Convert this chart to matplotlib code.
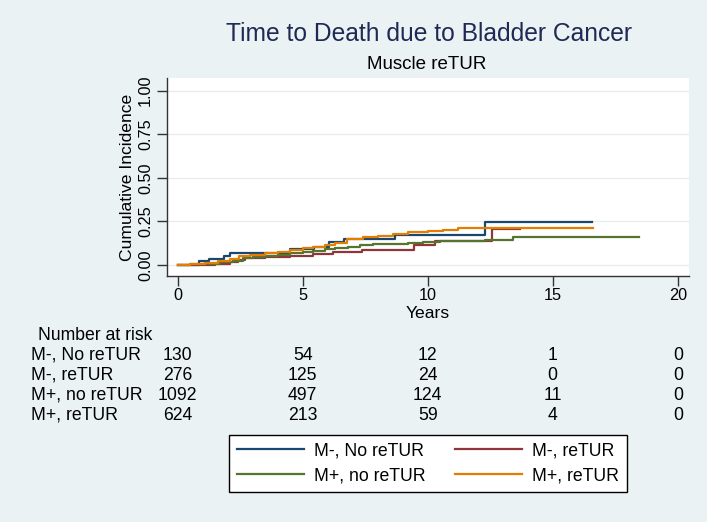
import matplotlib
matplotlib.use("Agg")
import matplotlib.pyplot as plt
import matplotlib.transforms as mtransforms
from matplotlib.patches import Rectangle

plt.rcParams['font.family'] = ['Liberation Sans', 'DejaVu Sans']

# cumulative incidence curves (step-post)
t_mneg_noretur = [0, 0.84, 1.24, 1.84, 2.1, 4.5, 5.44, 6.04, 6.63, 8.69, 12.3, 16.58]
ci_mneg_noretur = [0, 0.023, 0.036, 0.05, 0.069, 0.094, 0.105, 0.132, 0.149, 0.172, 0.248, 0.248]

t_mneg_retur = [0, 1.5, 2.1, 2.4, 2.7, 3.5, 4.5, 5.4, 6.2, 7.36, 9.45, 10.3, 12.55, 13.7]
ci_mneg_retur = [0, 0.004, 0.018, 0.03, 0.038, 0.044, 0.05, 0.063, 0.075, 0.088, 0.113, 0.138, 0.205, 0.205]

t_mpos_noretur = [0, 0.5, 1.1, 1.7, 2.2, 2.6, 3.0, 3.5, 4.0, 4.5, 5.0, 5.4, 5.9, 6.3, 6.8,
                  7.3, 7.8, 9.2, 9.8, 10.5, 12.3, 13.4, 18.44]
ci_mpos_noretur = [0, 0.004, 0.008, 0.015, 0.025, 0.038, 0.045, 0.053, 0.06, 0.067, 0.075, 0.082,
                   0.09, 0.097, 0.105, 0.112, 0.118, 0.124, 0.132, 0.14, 0.143, 0.163, 0.163]

t_mpos_retur = [0, 0.5, 1.1, 1.6, 2.1, 2.45, 2.9, 3.5, 4.0, 4.5, 5.0, 5.4, 5.9, 6.3, 6.76,
                7.4, 8.0, 8.6, 9.2, 10.0, 10.6, 11.2, 16.6]
ci_mpos_retur = [0, 0.004, 0.013, 0.022, 0.036, 0.05, 0.06, 0.067, 0.074, 0.085, 0.095, 0.105,
                 0.115, 0.128, 0.148, 0.158, 0.168, 0.18, 0.188, 0.196, 0.203, 0.21, 0.21]

group_labels = ["M-, No reTUR", "M-, reTUR", "M+, no reTUR", "M+, reTUR"]
group_colors = ["#1a476f", "#90353b", "#55752f", "#e37e00"]

# number at risk table
risk_times = [0, 5, 10, 15, 20]
risk_mneg_noretur = [130, 54, 12, 1, 0]
risk_mneg_retur = [276, 125, 24, 0, 0]
risk_mpos_noretur = [1092, 497, 124, 11, 0]
risk_mpos_retur = [624, 213, 59, 4, 0]

x_ticks = [0, 5, 10, 15, 20]
y_ticks = [0, 0.25, 0.5, 0.75, 1.0]
y_ticklabels = ["0.00", "0.25", "0.50", "0.75", "1.00"]

W, H = 713, 522
fig = plt.figure(figsize=(W / 100, H / 100), dpi=100, facecolor="#eaf2f3")
fig.patches.append(Rectangle((707 / W, 0), 1, 1, transform=fig.transFigure,
                             facecolor="white", edgecolor="none", zorder=-1))

ax = fig.add_axes([167 / W, 1 - 276 / H, 522 / W, 198 / H])
ax.set_facecolor("white")

curves = [(t_mneg_noretur, ci_mneg_noretur), (t_mneg_retur, ci_mneg_retur),
          (t_mpos_noretur, ci_mpos_noretur), (t_mpos_retur, ci_mpos_retur)]
handles = []
for (t, ci), lab, col in zip(curves, group_labels, group_colors):
    h, = ax.step(t, ci, where="post", color=col, lw=1.6, label=lab)
    handles.append(h)

ax.set_xlim(-0.43, 20.45)
ax.set_ylim(-0.063, 1.073)
ax.set_xticks(x_ticks)
ax.set_yticks(y_ticks)
ax.set_yticklabels(y_ticklabels, rotation=90, va="center")
ax.tick_params(axis="both", direction="out", length=7, width=1, color="#333333",
               labelsize=11.7, labelcolor="black")
ax.tick_params(axis="y", pad=3)
ax.tick_params(axis="x", pad=1.5)
for s in ["top", "right"]:
    ax.spines[s].set_visible(False)
for s in ["left", "bottom"]:
    ax.spines[s].set_color("#333333")
    ax.spines[s].set_linewidth(1)
ax.yaxis.grid(True, color="#e8ecec", lw=1)
ax.set_axisbelow(True)

# titles
fig.text(428.5 / W, 1 - 34 / H, "Time to Death due to Bladder Cancer", ha="center", va="center",
         fontsize=17.7, color="#1e2a55")
fig.text(426.5 / W, 1 - 65 / H, "Muscle reTUR", ha="center", va="center", fontsize=13.5)
fig.text(127 / W, 1 - 177 / H, "Cumulative Incidence", ha="center", va="center",
         rotation=90, fontsize=12.6)
fig.text(428 / W, 1 - 313 / H, "Years", ha="center", va="center", fontsize=12.6)

# number at risk
fig.text(38 / W, 1 - 335 / H, "Number at risk", ha="left", va="center", fontsize=12.7)
trans = mtransforms.blended_transform_factory(ax.transData, fig.transFigure)
risk_rows = [risk_mneg_noretur, risk_mneg_retur, risk_mpos_noretur, risk_mpos_retur]
row_y = [355, 375, 395, 415]
for lab, row, yy in zip(group_labels, risk_rows, row_y):
    fig.text(31 / W, 1 - yy / H, lab, ha="left", va="center", fontsize=12.7)
    for tt, n in zip(risk_times, row):
        ax.text(tt, 1 - yy / H, str(n), transform=trans, ha="center", va="center",
                fontsize=12.7, clip_on=False)

# legend filled column-wise, so reorder to get row-wise layout
order = [0, 2, 1, 3]
leg = fig.legend([handles[i] for i in order], [group_labels[i] for i in order],
                 loc="center", bbox_to_anchor=(428 / W, 1 - 463.5 / H),
                 ncol=2, fontsize=12.7, frameon=True, fancybox=False, edgecolor="black",
                 framealpha=1, facecolor="white", handlelength=3.8, handletextpad=0.6,
                 columnspacing=1.65, borderpad=0.45, labelspacing=0.45)
leg.get_frame().set_linewidth(1)

fig.savefig("out.png", dpi=100, facecolor=fig.get_facecolor())
